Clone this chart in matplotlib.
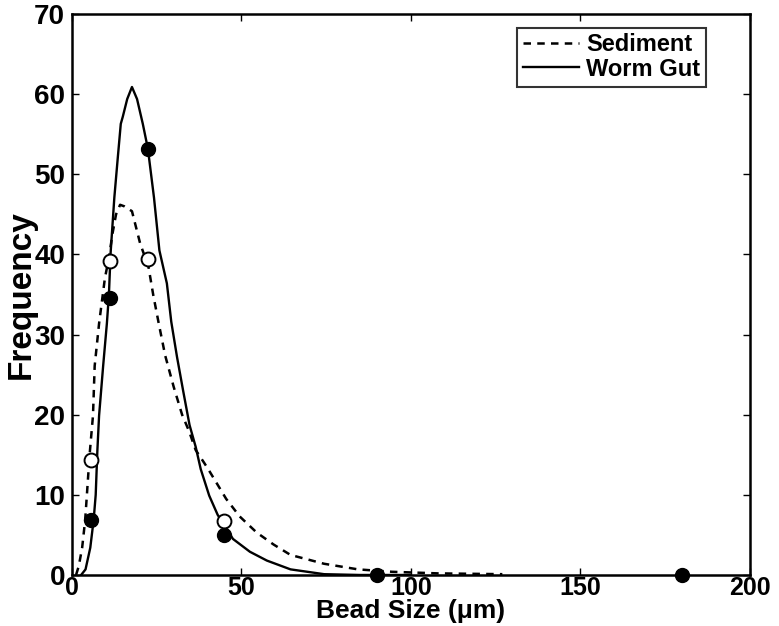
import matplotlib
matplotlib.use('Agg')
import matplotlib.pyplot as plt

# bead sizes (um) of the measured classes
bead_size = [5.6, 11.25, 22.5, 45, 90, 180]
sed_points = [14.3, 39.2, 39.4, 6.7]          # open circles, first four sizes
gut_points = [6.9, 34.6, 53.2, 5.0, 0.0, 0.0]  # filled circles

# fitted curves
sed_x = [1.2, 2.0, 3.0, 3.9, 4.4, 5.2, 6.2, 6.7, 8.0, 9.7, 10.9, 12.0, 13.0,
         14.2, 15.5, 17.7, 20.1, 22.6, 24.0, 25.6, 27.5, 30.0, 32.5, 34.5,
         36.5, 39.0, 40.5, 45.5, 49.5, 54.5, 59.5, 64.5, 74.4, 84.4, 94.4,
         108, 127]
sed_y = [0.0, 1.1, 3.4, 6.9, 10.0, 15.0, 19.9, 26.1, 31.4, 37.0, 39.6, 42.7,
         45.0, 46.2, 46.0, 45.4, 41.4, 38.4, 34.9, 31.4, 27.4, 23.5, 20.0,
         18.0, 15.6, 14.0, 13.0, 9.5, 7.3, 5.3, 3.8, 2.5, 1.4, 0.7, 0.4,
         0.2, 0.1]

gut_x = [2.7, 4.0, 5.4, 6.4, 7.0, 7.5, 8.0, 9.2, 10.3, 10.9, 11.4, 12.5,
         13.5, 14.4, 15.0, 16.3, 17.7, 19.2, 20.9, 22.4, 24.2, 25.8, 28.0,
         29.3, 31.0, 32.8, 34.7, 36.5, 38.0, 40.5, 43.0, 45.0, 47.5, 52.5,
         57.5, 64.5, 74.4, 85, 100]
gut_y = [0.0, 0.7, 3.4, 6.9, 10.0, 15.6, 19.9, 26.1, 31.4, 35.0, 40.2, 47.1,
         52.0, 56.3, 57.2, 59.4, 60.9, 59.4, 56.3, 53.2, 47.1, 40.5, 36.4,
         31.6, 27.2, 23.0, 18.7, 16.0, 13.2, 9.9, 7.5, 6.2, 4.5, 2.9, 1.8,
         0.7, 0.1, 0.0, 0.0]

plt.rcParams['font.family'] = ['Liberation Sans', 'DejaVu Sans']
plt.rcParams['font.weight'] = 'bold'

fig = plt.figure(figsize=(7.79, 6.26), dpi=100)
ax = fig.add_axes([0.0924, 0.0815, 0.870, 0.896])

ax.plot(sed_x, sed_y, 'k--', lw=1.8, dashes=(3, 2.5), label='Sediment')
ax.plot(gut_x, gut_y, 'k-', lw=1.7, label='Worm Gut')
ax.plot(bead_size[:4], sed_points, 'o', ms=10, mfc='white', mec='black', mew=1.4)
ax.plot(bead_size, gut_points, 'o', ms=10, mfc='black', mec='black', clip_on=False)

ax.set_xlim(0, 200)
ax.set_ylim(0, 70)
ax.set_xticks([0, 50, 100, 150, 200])
ax.set_yticks(range(0, 80, 10))
ax.tick_params(direction='in', top=True, right=True, length=5, width=1)
ax.tick_params(axis='x', pad=1, labelsize=18)
ax.tick_params(axis='y', pad=5, labelsize=20)
for lab in ax.get_xticklabels() + ax.get_yticklabels():
    lab.set_fontweight('bold')
for s in ax.spines.values():
    s.set_linewidth(1.8)

ax.set_xlabel('Bead Size (\u03bcm)', fontsize=19, fontweight='bold', labelpad=-1)
ax.set_ylabel('Frequency', fontsize=24, fontweight='bold', labelpad=-2)

leg = ax.legend(loc='upper right', bbox_to_anchor=(0.936, 0.976), fontsize=17,
                frameon=True, fancybox=False, edgecolor='black',
                handlelength=2.4, handletextpad=0.3, borderpad=0.25,
                labelspacing=0.05, borderaxespad=0)
leg.get_frame().set_linewidth(1.5)
for t in leg.get_texts():
    t.set_fontweight('bold')

fig.savefig('out.png', dpi=100)
